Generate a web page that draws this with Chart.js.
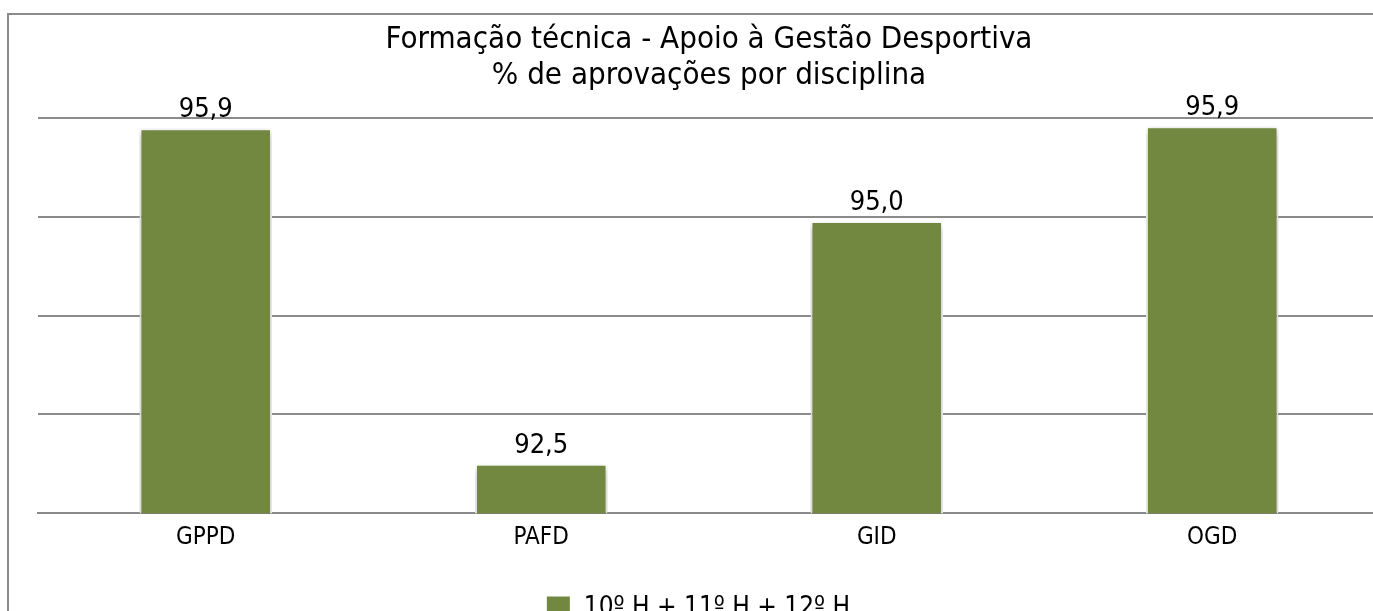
<!DOCTYPE html>
<html>
<head>
<meta charset="utf-8">
<script src="https://cdn.jsdelivr.net/npm/chart.js@4"></script>
<style>
  body { margin: 0; background: #fff; overflow: hidden; }
  #frame {
    position: absolute; left: 7px; top: 13px;
    width: 1420px; height: 640px;
    border-left: 2px solid #8a8a8a; border-top: 2px solid #8a8a8a;
  }
  #wrap { position: absolute; left: 0; top: 0; width: 1404px; height: 631px; }
</style>
</head>
<body>
<div id="frame"></div>
<div id="wrap"><canvas id="grafico"></canvas></div>
<script>
const disciplinas = ['GPPD', 'PAFD', 'GID', 'OGD'];
const aprovacoes = [95.9, 92.5, 94.96, 95.92];
const serieNome = '10º H + 11º H + 12º H';
const titulo = ['Formação técnica - Apoio à Gestão Desportiva', '% de aprovações por disciplina'];

const fonte = "'DejaVu Sans Condensed', 'DejaVu Sans', sans-serif";
const verde = '#728840';

// sombra por baixo das barras
const sombra = {
  id: 'sombra',
  beforeDatasetsDraw(chart) {
    const ctx = chart.ctx;
    ctx.save();
    ctx.shadowColor = 'rgba(0,0,0,0.35)';
    ctx.shadowBlur = 7;
    ctx.shadowOffsetY = 3;
  },
  afterDatasetsDraw(chart) {
    chart.ctx.restore();
  }
};

// rótulos de valor por cima das barras
const rotulos = {
  id: 'rotulos',
  afterDatasetsDraw(chart) {
    const ctx = chart.ctx;
    const meta = chart.getDatasetMeta(0);
    ctx.save();
    ctx.font = '27px ' + fonte;
    ctx.fillStyle = '#000';
    ctx.textAlign = 'center';
    ctx.textBaseline = 'alphabetic';
    meta.data.forEach((bar, i) => {
      const txt = aprovacoes[i].toFixed(1).replace('.', ',');
      ctx.fillText(txt, bar.x, bar.y - 11);
    });
    ctx.restore();
  }
};

// legenda um pouco mais à esquerda, como no original
const legendaEsq = {
  id: 'legendaEsq',
  afterLayout(chart) {
    chart.legend.left -= 11;
    chart.legend.right -= 11;
  }
};

const myChart = new Chart(document.getElementById('grafico'), {
  type: 'bar',
  data: {
    labels: disciplinas,
    datasets: [{
      label: serieNome,
      data: aprovacoes,
      backgroundColor: verde,
      borderColor: '#ffffff',
      borderWidth: 2,
      borderSkipped: false,
      barPercentage: 0.395,
      categoryPercentage: 1
    }]
  },
  options: {
    responsive: true,
    maintainAspectRatio: false,
    animation: false,
    layout: { padding: { left: 38, right: 24, top: 0, bottom: 0 } },
    plugins: {
      title: {
        display: true,
        text: titulo,
        color: '#000',
        font: { family: fonte, size: 31, weight: 'normal', lineHeight: 1.15 },
        padding: { top: 22, bottom: 25 }
      },
      legend: {
        position: 'bottom',
        labels: {
          color: '#000',
          font: { family: fonte, size: 26 },
          boxWidth: 25,
          boxHeight: 25,
          padding: 21
        }
      },
      tooltip: { enabled: false }
    },
    scales: {
      x: {
        grid: { display: false, drawTicks: false },
        border: { display: true, color: '#8a8a8a', width: 2 },
        ticks: { color: '#000', font: { family: fonte, size: 24 }, padding: 10 },
        afterFit(scale) { scale.height += 12; }
      },
      y: {
        min: 92,
        max: 96,
        ticks: { display: false, stepSize: 1 },
        grid: { color: '#8a8a8a', lineWidth: 2, drawTicks: false },
        border: { display: false }
      }
    }
  },
  plugins: [sombra, rotulos, legendaEsq]
});
</script>
</body>
</html>
